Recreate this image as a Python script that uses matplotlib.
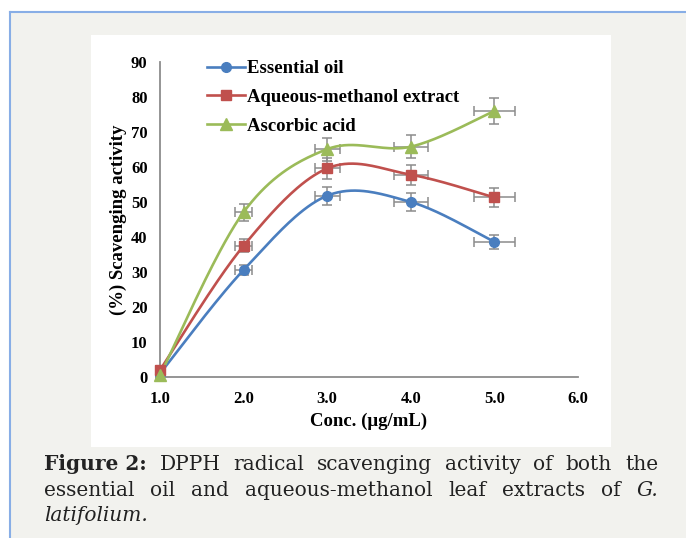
import numpy as np
import matplotlib
matplotlib.use("Agg")
import matplotlib.pyplot as plt
from matplotlib.lines import Line2D

# datos
conc = [1.0, 2.0, 3.0, 4.0, 5.0]
conc_err = [0.05, 0.10, 0.15, 0.20, 0.25]
essential_oil = [1.0, 30.6, 51.8, 50.0, 38.6]
essential_err = [0.05, 1.5, 2.6, 2.5, 1.9]
aqueous_methanol = [2.0, 37.5, 59.6, 57.8, 51.3]
aqueous_err = [0.1, 1.9, 3.0, 2.9, 2.6]
ascorbic_acid = [0.5, 47.1, 65.1, 65.8, 76.0]
ascorbic_err = [0.03, 2.4, 3.3, 3.3, 3.8]

series_names = ["Essential oil", "Aqueous-methanol extract", "Ascorbic acid"]
xticks = [1.0, 2.0, 3.0, 4.0, 5.0, 6.0]
yticks = [0, 10, 20, 30, 40, 50, 60, 70, 80, 90]

caption_lines = [
    [("Figure 2:", "bold", "normal"), ("DPPH", "normal", "normal"), ("radical", "normal", "normal"),
     ("scavenging", "normal", "normal"), ("activity", "normal", "normal"), ("of", "normal", "normal"),
     ("both", "normal", "normal"), ("the", "normal", "normal")],
    [("essential", "normal", "normal"), ("oil", "normal", "normal"), ("and", "normal", "normal"),
     ("aqueous-methanol", "normal", "normal"), ("leaf", "normal", "normal"), ("extracts", "normal", "normal"),
     ("of", "normal", "normal"), ("G.", "normal", "italic")],
    [("latifolium.", "normal", "italic")],
]


def smooth_curve(x, y, n=40):
    # suavizado tipo Excel (Catmull-Rom con curvas de Bezier)
    p = np.column_stack([x, y]).astype(float)
    p_ext = np.vstack([p[0], p, p[-1]])
    out = []
    t = np.linspace(0, 1, n)[:, None]
    for i in range(len(p) - 1):
        p0, p1, p2, p3 = p_ext[i], p_ext[i + 1], p_ext[i + 2], p_ext[i + 3]
        c1 = p1 + (p2 - p0) / 6.0
        c2 = p2 - (p3 - p1) / 6.0
        seg = ((1 - t) ** 3) * p1 + 3 * ((1 - t) ** 2) * t * c1 + 3 * (1 - t) * t ** 2 * c2 + t ** 3 * p2
        out.append(seg)
    out = np.vstack(out)
    return out[:, 0], out[:, 1]


W, H = 686, 538
fig = plt.figure(figsize=(W / 100, H / 100), dpi=100)
fig.patch.set_facecolor("white")

# fondo gris con borde azul
fig.patches.append(plt.Rectangle((10 / W, 0), 1, (H - 12) / H, transform=fig.transFigure,
                                 facecolor="#f2f2ee", edgecolor="none", zorder=-2))
fig.lines.append(Line2D([10 / W, 1], [(H - 12) / H, (H - 12) / H], transform=fig.transFigure,
                        color="#88aee6", lw=1.5, zorder=-1))
fig.lines.append(Line2D([10 / W, 10 / W], [0, (H - 12) / H], transform=fig.transFigure,
                        color="#88aee6", lw=1.5, zorder=-1))
# panel blanco del grafico
fig.patches.append(plt.Rectangle((91 / W, (H - 447) / H), 520 / W, 412 / H, transform=fig.transFigure,
                                 facecolor="white", edgecolor="none", zorder=-1))

ax = fig.add_axes([160 / W, (H - 377) / H, 418 / W, 315 / H])
ax.set_zorder(2)
ax.set_facecolor("none")
ax.set_xlim(1.0, 6.0)
ax.set_ylim(0, 90)

serif = "Liberation Serif"
colors = ["#4a7ebf", "#c0504d", "#9bbb59"]
markers = ["o", "s", "^"]
msizes = [7, 7, 9]
data = [(essential_oil, essential_err), (aqueous_methanol, aqueous_err), (ascorbic_acid, ascorbic_err)]

handles = []
for (vals, errs), col, mk, ms, name in zip(data, colors, markers, msizes, series_names):
    sx, sy = smooth_curve(conc, vals)
    ax.plot(sx, sy, color=col, lw=1.9, clip_on=False, zorder=3)
    ax.errorbar(conc, vals, xerr=conc_err, yerr=errs, fmt="none", ecolor="#8c8c8c",
                elinewidth=1.1, capsize=3.5, capthick=1.1, clip_on=False, zorder=2)
    ax.plot(conc, vals, linestyle="none", marker=mk, color=col, markersize=ms, clip_on=False, zorder=4)
    handles.append(Line2D([], [], color=col, lw=1.9, marker=mk, markersize=ms))

leg = ax.legend(handles, series_names, loc="upper left", bbox_to_anchor=(0.095, 1.03), frameon=False,
                prop={"family": serif, "weight": "bold", "size": 13.5}, handlelength=2.0,
                handletextpad=0.1, labelspacing=0.62, borderaxespad=0)

for s in ["top", "right"]:
    ax.spines[s].set_visible(False)
for s in ["left", "bottom"]:
    ax.spines[s].set_color("#8c8c8c")
    ax.spines[s].set_linewidth(1.3)

ax.set_xticks(xticks)
ax.set_xticklabels([f"{v:.1f}" for v in xticks])
ax.set_yticks(yticks)
ax.set_yticklabels([str(v) for v in yticks])
ax.tick_params(length=0, pad=10)
ax.tick_params(axis="y", pad=9)
for lbl in ax.get_xticklabels() + ax.get_yticklabels():
    lbl.set_fontfamily(serif)
    lbl.set_fontweight("bold")
    lbl.set_fontsize(12)

ax.set_xlabel("Conc. (μg/mL)", fontfamily=serif, fontweight="bold", fontsize=13.5, labelpad=4)
ax.set_ylabel("(%) Scavenging activity", fontfamily=serif, fontweight="bold", fontsize=13.5, labelpad=3)

# texto del pie de figura, justificado
fig.canvas.draw()
renderer = fig.canvas.get_renderer()
cap_left, cap_right = 44, 658
cap_y = [470, 496, 521]
cap_size = 14.5
for line, yy in zip(caption_lines, cap_y):
    texts = []
    widths = []
    for word, weight, style in line:
        t = fig.text(0, 1 - yy / H, word, fontfamily="DejaVu Serif", fontweight=weight, fontstyle=style,
                     fontsize=cap_size, color="#222222", va="baseline", ha="left")
        texts.append(t)
        widths.append(t.get_window_extent(renderer).width)
    if len(line) > 1:
        gap = (cap_right - cap_left - sum(widths)) / (len(line) - 1)
    else:
        gap = 0
    x = cap_left
    for t, w in zip(texts, widths):
        t.set_x(x / W)
        x += w + gap

fig.savefig("out.png", dpi=100, facecolor=fig.get_facecolor())
